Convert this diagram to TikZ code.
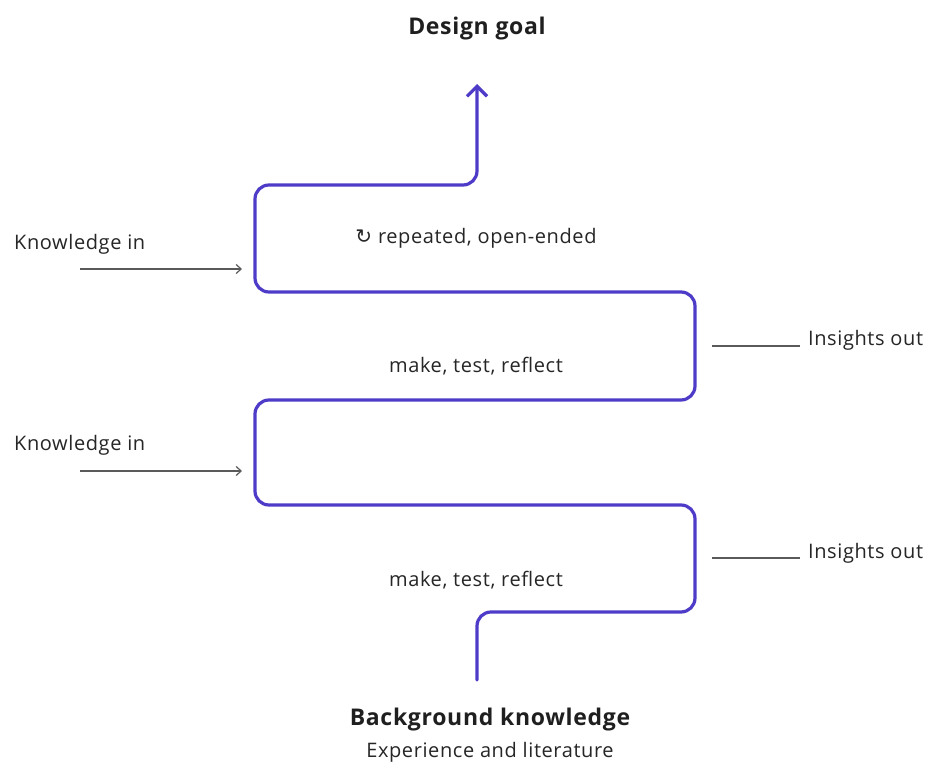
\documentclass[tikz,border=0pt]{standalone}
\usepackage{fontspec}
\setmainfont{Open Sans}[LetterSpace=3]
\newfontfamily\symfont{DejaVu Sans}
\usetikzlibrary{arrows.meta}
\definecolor{flow}{RGB}{78,60,200}
\definecolor{txt}{RGB}{38,38,38}
\definecolor{conn}{RGB}{90,90,90}
\tikzset{
  flowline/.style={draw=flow, line width=3.2pt, rounded corners=14pt, line cap=round},
  lbl/.style={text=txt, font=\fontsize{20}{24}\selectfont, inner sep=0pt},
  title/.style={text=black!88, font=\fontsize{23}{27}\selectfont\bfseries, inner sep=0pt},
  inarrow/.style={draw=conn, line width=1.2pt, -{Straight Barb[length=5pt,width=9pt]}},
  outline/.style={draw=conn, line width=1.2pt},
}
\begin{document}
\begin{tikzpicture}[x=1pt,y=-1pt]
\useasboundingbox[fill=white] (0,0) rectangle (930,762);
% titles
\node[title] (goal) at (477,29) {Design goal};
\node[title] (bg) at (490,720) {Background knowledge};
\node[lbl] (bgsub) at (490,752) {Experience and literature};
% main path coordinates
\coordinate (s) at (477,680);
\coordinate (e) at (477,84);
\draw[flowline, -{Straight Barb[length=10pt,width=20pt]}]
  (s) -- (477,612) -- (695,612) -- (695,505) -- (255,505) -- (255,400)
  -- (695,400) -- (695,292) -- (255,292) -- (255,185) -- (477,185) -- (e);
% inner labels
\node[lbl] (rep) at (476,238) {{\symfont\char"21BB}\ repeated, open-ended};
\node[lbl] (mtr1) at (476,366) {make, test, reflect};
\node[lbl] (mtr2) at (476,580) {make, test, reflect};
% knowledge in
\node[lbl, anchor=west] (kin1) at (14,244) {Knowledge in};
\node[lbl, anchor=west] (kin2) at (14,445) {Knowledge in};
\coordinate (kin1s) at (80,269);
\coordinate (kin1e) at (242,269);
\coordinate (kin2s) at (80,471);
\coordinate (kin2e) at (242,471);
\draw[inarrow] (kin1s) -- (kin1e);
\draw[inarrow] (kin2s) -- (kin2e);
% insights out
\node[lbl, anchor=west] (ins1) at (808,340) {Insights out};
\node[lbl, anchor=west] (ins2) at (808,553) {Insights out};
\coordinate (ins1s) at (712,346);
\coordinate (ins2s) at (712,558);
\draw[outline] (ins1s) -- ([xshift=-8pt]ins1.west |- ins1s);
\draw[outline] (ins2s) -- ([xshift=-8pt]ins2.west |- ins2s);
\end{tikzpicture}
\end{document}
